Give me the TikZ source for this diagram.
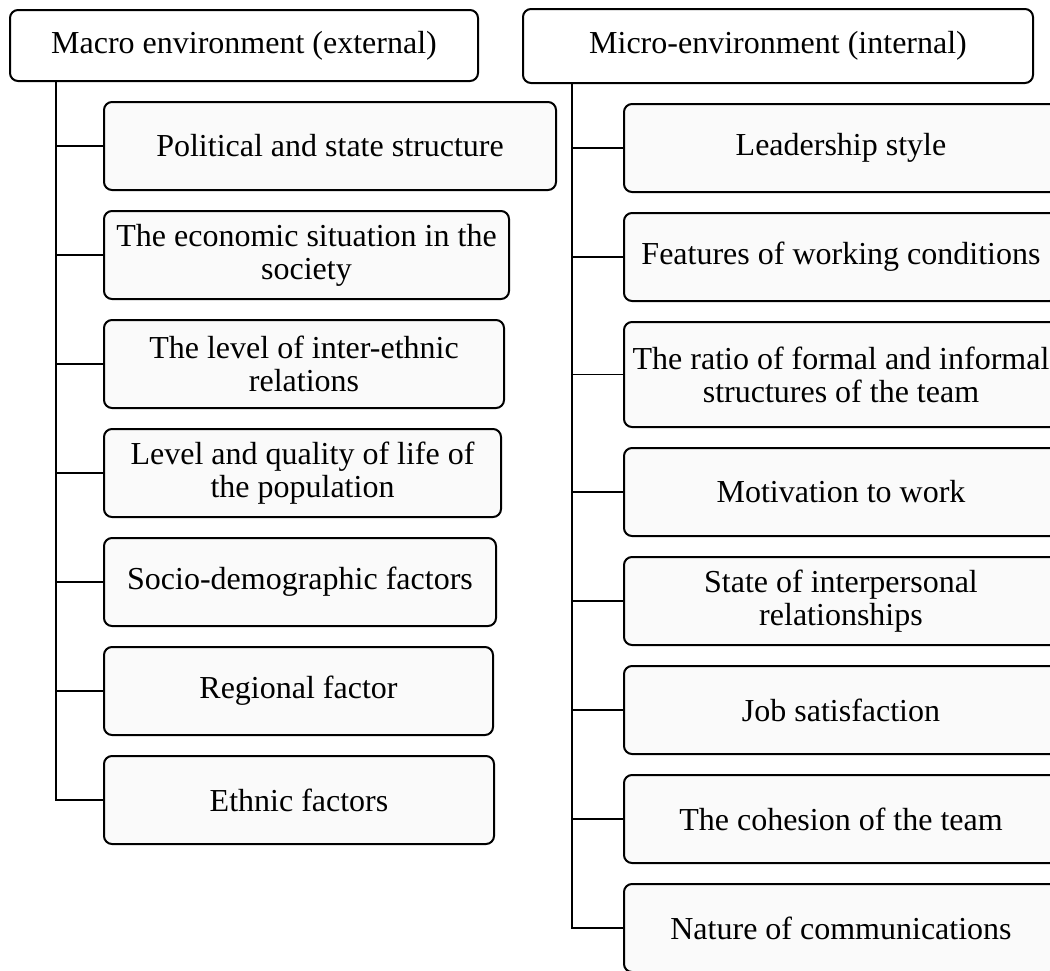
\documentclass[tikz,border=0pt]{standalone}
\usepackage{fontspec}
\setmainfont{Liberation Serif}
\usetikzlibrary{positioning}

\begin{document}
\begin{tikzpicture}[
  box/.style={draw, line width=1pt, rounded corners=4pt, align=center,
              font=\fontsize{16}{16.5}\selectfont, inner xsep=2pt,
              minimum height=44pt},
  head/.style={box, fill=white},
  item/.style={box, fill=black!2},
  lnk/.style={line width=0.8pt},
  node distance=9.5pt]
\clip (0,0) rectangle (525pt,-485pt);
% external (macro) factors
\node[head, anchor=north west, minimum width=234pt, minimum height=35.5pt]
  (macro) at (4.5pt,-4.5pt) {Macro environment (external)};
\node[item, anchor=north west, minimum width=226pt] (pol) at (51.5pt,-50.5pt)
  {Political and state structure};
\node[item, below=of pol.south west, anchor=north west, minimum width=202.5pt]
  (econ) {The economic situation in the\\society};
\node[item, below=of econ.south west, anchor=north west, minimum width=200pt]
  (inter) {The level of inter-ethnic\\relations};
\node[item, below=of inter.south west, anchor=north west, minimum width=198.5pt]
  (life) {Level and quality of life of\\the population};
\node[item, below=of life.south west, anchor=north west, minimum width=196pt]
  (socio) {Socio-demographic factors};
\node[item, below=of socio.south west, anchor=north west, minimum width=194.5pt]
  (reg) {Regional factor};
\node[item, below=of reg.south west, anchor=north west, minimum width=195pt]
  (ethn) {Ethnic factors};
\coordinate (macroT) at ([xshift=23.5pt]macro.south west);
\foreach \b in {pol,econ,inter,life,socio,reg,ethn}
  \draw[lnk] (macroT) |- (\b.west);
% internal (micro) factors
\node[head, anchor=north west, minimum width=255pt, minimum height=37pt]
  (micro) at (261pt,-4pt) {Micro-environment (internal)};
\begin{scope}[node distance=9.5pt,
  every node/.append style={minimum width=217pt, minimum height=43.5pt}]
\node[item, anchor=north west] (lead) at (311.5pt,-51.5pt) {Leadership style};
\node[item, below=of lead] (work) {Features of working conditions};
\node[item, below=of work, minimum height=52.5pt] (ratio)
  {The ratio of formal and informal\\structures of the team};
\node[item, below=of ratio] (motiv) {Motivation to work};
\node[item, below=of motiv] (rel) {State of interpersonal\\relationships};
\node[item, below=of rel] (job) {Job satisfaction};
\node[item, below=of job] (coh) {The cohesion of the team};
\node[item, below=of coh] (comm) {Nature of communications};
\end{scope}
\coordinate (microT) at ([xshift=25pt]micro.south west);
\foreach \b in {lead,work,ratio,motiv,rel,job,coh,comm}
  \draw[lnk] (microT) |- (\b.west);
\end{tikzpicture}
\end{document}
